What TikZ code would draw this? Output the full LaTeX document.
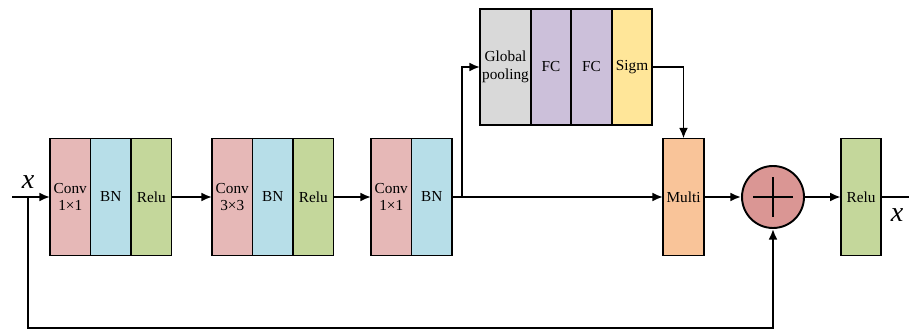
\documentclass[tikz,border=0pt]{standalone}
\usepackage{fontspec}
\setmainfont{Liberation Serif}
\newfontfamily\timesfont{Liberation Serif}
\usepackage{tikz}
\usetikzlibrary{arrows.meta}
\usetikzlibrary{positioning}

\definecolor{convpink}{HTML}{E6B8B7}
\definecolor{bnblue}{HTML}{B7DEE8}
\definecolor{relugreen}{HTML}{C4D79B}
\definecolor{poolgray}{HTML}{D9D9D9}
\definecolor{fcpurple}{HTML}{CCC0DA}
\definecolor{sigmyellow}{HTML}{FFE699}
\definecolor{multiorange}{HTML}{F9C499}
\definecolor{addred}{HTML}{DA9694}

\begin{document}
\begin{tikzpicture}[node distance=0.81cm,auto,>={Latex[length=6pt,width=5pt]},line width=1.1pt,
    cell/.style={draw, rectangle, minimum width=0.81cm, minimum height=2.34cm, inner sep=1pt, outer sep=0pt, align=center, font=\timesfont\fontsize{8.7}{10}\selectfont},
    conv/.style={cell, fill=convpink},
    bn/.style={cell, fill=bnblue},
    relu/.style={cell, fill=relugreen},
    fc/.style={cell, minimum height=2.32cm, fill=fcpurple},
    xlabel/.style={font=\timesfont\itshape\fontsize{16}{16}\selectfont}]

    \useasboundingbox (0,-2.76) rectangle (18.18,3.94);

            % Nodes
            \node [conv] (conv1) at (1.405,0) {Conv\\1×1};
            \node [bn, right of=conv1] (bn1) {BN};
            \node [relu, right of=bn1] (relu1) {Relu};

            \node [conv] (conv2) at (4.645,0) {Conv\\3×3};
            \node [bn, right of=conv2] (bn2) {BN};
            \node [relu, right of=bn2] (relu2) {Relu};

            \node [conv] (conv3) at (7.825,0) {Conv\\1×1};
            \node [bn, right of=conv3] (bn3) {BN};

            % Squeeze branch
            \node [fc, minimum width=1.02cm, fill=poolgray] (gpool) at (10.11,2.60) {Global\\pooling};
            \node [fc, right of=gpool, node distance=0.91cm] (fc1) {FC};
            \node [fc, right of=fc1] (fc2) {FC};
            \node [fc, right of=fc2, fill=sigmyellow] (sigm) {Sigm};

            \node [cell, minimum width=0.82cm, fill=multiorange] (multi) at (13.67,0) {Multi};
            \node [draw, circle, minimum size=1.24cm, fill=addred] (add) at (15.46,0) {};
            \node [relu] (relu4) at (17.22,0) {Relu};

            % Inputs and Outputs
            \coordinate (input) at (0.24,0);
            \coordinate (split) at (0.56,0);
            \coordinate (bottom) at (0.56,-2.62);
            \coordinate (tap) at (9.24,0);
            \coordinate (output) at (18.18,0);
            \node [xlabel] (xin) at (0.56,0.30) {x};
            \node [xlabel] (xout) at (17.94,-0.36) {x};

            % Connections
            \draw [->] (input) -- (conv1);
            \draw [->] (relu1) -- (conv2);
            \draw [->] (relu2) -- (conv3);
            \draw [->] (bn3) -- (multi);
            \draw [->] (tap) |- (gpool.west);
            \draw [->] (sigm.east) -| (multi.north);
            \draw [->] (multi) -- (add);
            \draw [->] (add) -- (relu4);
            \draw (relu4) -- (output);
            \draw [->] (split) -- (bottom) -| (add.south);
            \draw ([xshift=-0.4cm]add.center) -- ([xshift=0.4cm]add.center);
            \draw ([yshift=-0.4cm]add.center) -- ([yshift=0.4cm]add.center);

        \end{tikzpicture}
\end{document}
